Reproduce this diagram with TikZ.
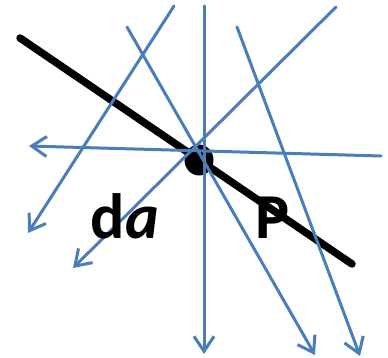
\documentclass[tikz,border=0pt]{standalone}
\usepackage{fontspec}
\setmainfont{Carlito}
\usetikzlibrary{arrows.meta,shapes.geometric}
\definecolor{rayblue}{HTML}{4A7EBB}
\tikzset{
  ray/.style={draw=rayblue, line width=3pt, line cap=round, line join=round,
    -{Straight Barb[length=15pt,width=20pt,line join=miter]}},
  plane/.style={draw=black, line width=7.5pt, line cap=round},
  lbl/.style={font=\fontsize{64}{64}\selectfont\bfseries, inner sep=0pt, anchor=base}
}
\begin{document}
\begin{tikzpicture}[x=1pt,y=-1pt]
\useasboundingbox (0,0) rectangle (388,358);
% plane line
\coordinate (pa) at (20,38);
\coordinate (pb) at (352,264);
\draw[plane] (pa) -- (pb);
\node[fill=black, ellipse, minimum width=29pt, minimum height=31pt, inner sep=0pt] (dot) at (199,160) {};
% rays
\coordinate (s1) at (174,6);   \coordinate (e1) at (28,233);
\coordinate (s2) at (127,27);  \coordinate (e2) at (315,355);
\coordinate (s3) at (204,6);   \coordinate (e3) at (204,354);
\coordinate (s4) at (336,7);   \coordinate (e4) at (73,268);
\coordinate (s5) at (237,27);  \coordinate (e5) at (360,356);
\coordinate (s6) at (381,156); \coordinate (e6) at (29,146);
\draw[ray] (s1) -- (e1);
\draw[ray] (s2) -- (e2);
\draw[ray] (s3) -- (e3);
\draw[ray] (s4) -- (e4);
\draw[ray] (s5) -- (e5);
\draw[ray] (s6) -- (e6);
% labels
\node[lbl] (da) at (125,238) {d\textit{a}};
\node[lbl] (P) at (273,238) {P};
\end{tikzpicture}
\end{document}
